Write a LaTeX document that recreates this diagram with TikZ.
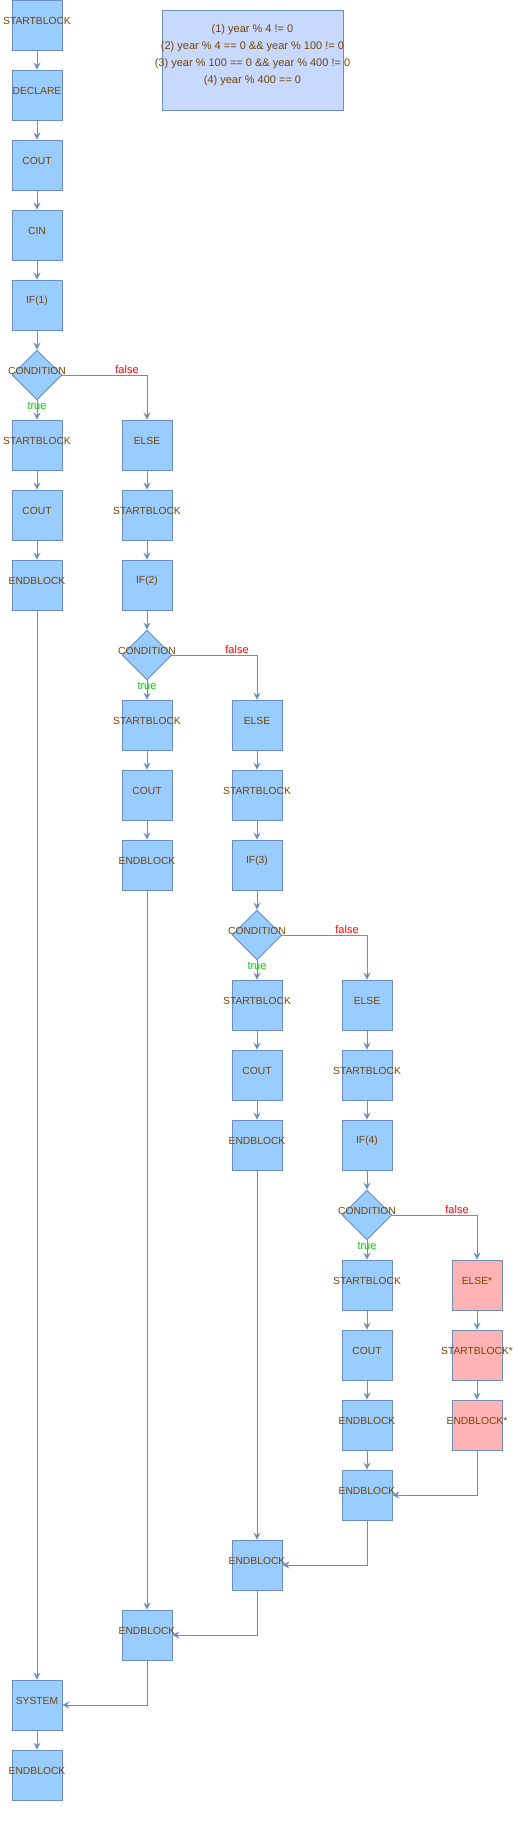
\documentclass[tikz,border=0pt]{standalone}
\usepackage{fontspec}
\setmainfont{Liberation Sans}
\usetikzlibrary{arrows.meta,shapes.geometric}
\definecolor{bfill}{HTML}{99CCFF}
\definecolor{bline}{HTML}{6C8EBF}
\definecolor{tcol}{HTML}{774400}
\definecolor{nfill}{HTML}{C7D9FF}
\definecolor{rfill}{HTML}{FFB3B3}
\definecolor{fcol}{HTML}{FF0000}
\definecolor{gcol}{HTML}{00CC00}
\begin{document}
\begin{tikzpicture}[x=1pt,y=-1pt,
  lbl/.style={text=tcol,font=\fontsize{10.3}{12}\selectfont,inner sep=0pt},
  blk/.style={rectangle,draw=bline,fill=bfill,line width=0.9pt,minimum size=50pt,inner sep=0pt,
    label={[lbl,yshift=4.5pt]center:{#1}}},
  red/.style={blk=#1,fill=rfill},
  cond/.style={diamond,draw=bline,fill=bfill,line width=0.9pt,minimum width=50pt,minimum height=50pt,inner sep=0pt,
    label={[lbl,yshift=4.5pt]center:{CONDITION}}},
  notebox/.style={rectangle,draw=bline,fill=nfill,line width=0.9pt,minimum width=181pt,minimum height=100pt,inner sep=0pt},
  arr/.style={draw=bline,line width=0.9pt,-{Stealth[length=7pt,width=7pt,inset=2.5pt]}},
  flbl/.style={text=fcol,font=\fontsize{11}{13}\selectfont,inner sep=0pt,xshift=-20pt,yshift=5.5pt},
  tlbl/.style={text=gcol,font=\fontsize{11}{13}\selectfont,inner sep=0pt,yshift=-5.5pt},
]
\useasboundingbox (0,0) rectangle (518,1822);

% note
\node[notebox,label={[text=tcol,font=\fontsize{11}{17}\selectfont,align=center,inner sep=0pt,yshift=4.5pt]center:{(1) year \% 4 != 0\\(2) year \% 4 == 0 \&\& year \% 100 != 0\\(3) year \% 100 == 0 \&\& year \% 400 != 0\\(4) year \% 400 == 0}}] (note) at (252.5,60) {};

% column 0
\node[blk=STARTBLOCK] (a0) at (37,25) {};
\node[blk=DECLARE] (a1) at (37,95) {};
\node[blk=COUT] (a2) at (37,165) {};
\node[blk=CIN] (a3) at (37,235) {};
\node[blk=IF(1)] (a4) at (37,305) {};
\node[cond] (c1) at (37,375) {};
\node[blk=STARTBLOCK] (s1) at (37,445) {};
\node[blk=COUT] (o1) at (37,515) {};
\node[blk=ENDBLOCK] (b1) at (37,585) {};
\node[blk=SYSTEM] (sys) at (37,1705) {};
\node[blk=ENDBLOCK] (fin) at (37,1775) {};

% column 1
\node[blk=ELSE] (e1) at (147,445) {};
\node[blk=STARTBLOCK] (t1) at (147,515) {};
\node[blk=IF(2)] (i2) at (147,585) {};
\node[cond] (c2) at (147,655) {};
\node[blk=STARTBLOCK] (s2) at (147,725) {};
\node[blk=COUT] (o2) at (147,795) {};
\node[blk=ENDBLOCK] (b2) at (147,865) {};
\node[blk=ENDBLOCK] (eb1) at (147,1635) {};

% column 2
\node[blk=ELSE] (e2) at (257,725) {};
\node[blk=STARTBLOCK] (t2) at (257,795) {};
\node[blk=IF(3)] (i3) at (257,865) {};
\node[cond] (c3) at (257,935) {};
\node[blk=STARTBLOCK] (s3) at (257,1005) {};
\node[blk=COUT] (o3) at (257,1075) {};
\node[blk=ENDBLOCK] (b3) at (257,1145) {};
\node[blk=ENDBLOCK] (eb2) at (257,1565) {};

% column 3
\node[blk=ELSE] (e3) at (367,1005) {};
\node[blk=STARTBLOCK] (t3) at (367,1075) {};
\node[blk=IF(4)] (i4) at (367,1145) {};
\node[cond] (c4) at (367,1215) {};
\node[blk=STARTBLOCK] (s4) at (367,1285) {};
\node[blk=COUT] (o4) at (367,1355) {};
\node[blk=ENDBLOCK] (b4) at (367,1425) {};
\node[blk=ENDBLOCK] (eb3) at (367,1495) {};

% column 4
\node[red=ELSE*] (e4) at (477,1285) {};
\node[red=STARTBLOCK*] (t4) at (477,1355) {};
\node[red=ENDBLOCK*] (b5) at (477,1425) {};

% edges column 0
\draw[arr] (a0) -- (a1);
\draw[arr] (a1) -- (a2);
\draw[arr] (a2) -- (a3);
\draw[arr] (a3) -- (a4);
\draw[arr] (a4) -- (c1);
\draw[arr] (c1) -- (s1);
\draw[arr] (c1.east) -| (e1.north);
\draw[arr] (s1) -- (o1);
\draw[arr] (o1) -- (b1);
\draw[arr] (b1) -- (sys);
\draw[arr] (sys) -- (fin);
\node[tlbl] (tr1) at (c1.south) {true};
\node[flbl] (fa1) at (c1.east -| e1) {false};

% edges column 1
\draw[arr] (e1) -- (t1);
\draw[arr] (t1) -- (i2);
\draw[arr] (i2) -- (c2);
\draw[arr] (c2) -- (s2);
\draw[arr] (c2.east) -| (e2.north);
\draw[arr] (s2) -- (o2);
\draw[arr] (o2) -- (b2);
\draw[arr] (b2) -- (eb1);
\draw[arr] (eb1.south) |- (sys.east);
\node[tlbl] (tr2) at (c2.south) {true};
\node[flbl] (fa2) at (c2.east -| e2) {false};

% edges column 2
\draw[arr] (e2) -- (t2);
\draw[arr] (t2) -- (i3);
\draw[arr] (i3) -- (c3);
\draw[arr] (c3) -- (s3);
\draw[arr] (c3.east) -| (e3.north);
\draw[arr] (s3) -- (o3);
\draw[arr] (o3) -- (b3);
\draw[arr] (b3) -- (eb2);
\draw[arr] (eb2.south) |- (eb1.east);
\node[tlbl] (tr3) at (c3.south) {true};
\node[flbl] (fa3) at (c3.east -| e3) {false};

% edges column 3
\draw[arr] (e3) -- (t3);
\draw[arr] (t3) -- (i4);
\draw[arr] (i4) -- (c4);
\draw[arr] (c4) -- (s4);
\draw[arr] (c4.east) -| (e4.north);
\draw[arr] (s4) -- (o4);
\draw[arr] (o4) -- (b4);
\draw[arr] (b4) -- (eb3);
\draw[arr] (eb3.south) |- (eb2.east);
\node[tlbl] (tr4) at (c4.south) {true};
\node[flbl] (fa4) at (c4.east -| e4) {false};

% edges column 4
\draw[arr] (e4) -- (t4);
\draw[arr] (t4) -- (b5);
\draw[arr] (b5.south) |- (eb3.east);
\end{tikzpicture}
\end{document}
